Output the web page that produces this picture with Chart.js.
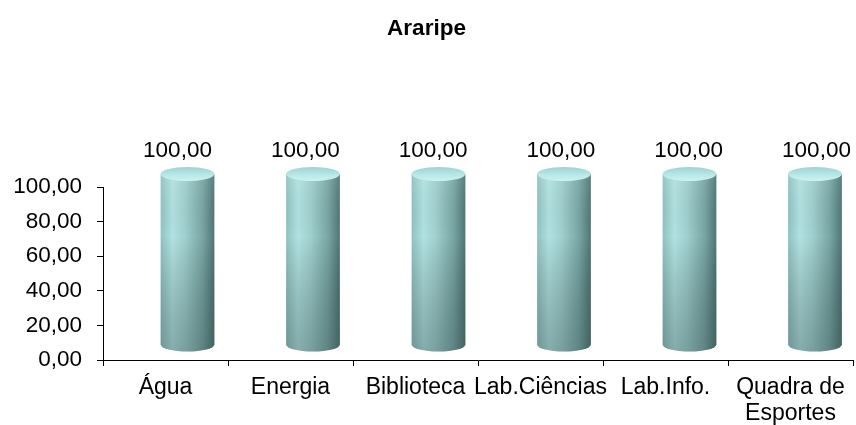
<!DOCTYPE html>
<html>
<head>
<meta charset="utf-8">
<script src="https://cdn.jsdelivr.net/npm/chart.js@4.4.0/dist/chart.umd.min.js"></script>
<style>
  html, body { margin: 0; padding: 0; background: #fff; }
  #wrap { width: 856px; height: 425px; }
</style>
</head>
<body>
<div id="wrap"><canvas id="chart" width="856" height="425"></canvas></div>
<script>
const categories = ['Água', 'Energia', 'Biblioteca', 'Lab.Ciências', 'Lab.Info.', ['Quadra de', 'Esportes']];
const values = [100, 100, 100, 100, 100, 100];
const yTicks = [0, 20, 40, 60, 80, 100];
const chartTitle = 'Araripe';

const FONT = '"Liberation Sans", Arial, sans-serif';
const fmt = v => v.toFixed(2).replace('.', ',');

// 3D cylinder look drawn over the (invisible) bar elements
const cylinders = {
  id: 'cylinders',
  afterDatasetsDraw(chart) {
    const ctx = chart.ctx;
    const meta = chart.getDatasetMeta(0);
    meta.data.forEach((bar, i) => {
      const w = bar.width;
      const cx = bar.x + 22 + i * 0.5;
      const left = cx - w / 2, right = cx + w / 2;
      const ry = 7;
      const top = bar.y - 13;
      const bottom = bar.base - 15;

      const g = ctx.createLinearGradient(left, 0, right, 0);
      g.addColorStop(0, '#8fc2c1');
      g.addColorStop(0.22, '#b0e2e1');
      g.addColorStop(0.45, '#a0d0cf');
      g.addColorStop(0.78, '#78a6a4');
      g.addColorStop(1, '#4f7675');

      ctx.save();
      ctx.beginPath();
      ctx.moveTo(left, top);
      ctx.lineTo(left, bottom);
      ctx.ellipse(cx, bottom, w / 2, ry, 0, Math.PI, 0, true);
      ctx.lineTo(right, top);
      ctx.closePath();
      ctx.fillStyle = g;
      ctx.fill();

      // darker toward the bottom
      const vg = ctx.createLinearGradient(0, top, 0, bottom + ry);
      vg.addColorStop(0, 'rgba(255,255,255,0.08)');
      vg.addColorStop(0.35, 'rgba(0,0,0,0)');
      vg.addColorStop(1, 'rgba(40,60,60,0.32)');
      ctx.fillStyle = vg;
      ctx.fill();

      // top cap
      const tg = ctx.createLinearGradient(0, top - ry, 0, top + ry);
      tg.addColorStop(0, '#9fd2d1');
      tg.addColorStop(0.6, '#b9e9e8');
      tg.addColorStop(1, '#cdf3f2');
      ctx.beginPath();
      ctx.ellipse(cx, top, w / 2, ry, 0, 0, Math.PI * 2);
      ctx.fillStyle = tg;
      ctx.fill();
      ctx.restore();

      // value label
      ctx.save();
      ctx.font = '22.5px ' + FONT;
      ctx.fillStyle = '#000';
      ctx.textAlign = 'center';
      ctx.textBaseline = 'middle';
      ctx.fillText(fmt(values[i]), bar.x + 12 + i * 2.8, bar.y - 36);
      ctx.restore();
    });
  }
};

new Chart(document.getElementById('chart'), {
  type: 'bar',
  data: {
    labels: categories,
    datasets: [{
      data: values,
      backgroundColor: 'rgba(0,0,0,0)',
      borderWidth: 0,
      categoryPercentage: 1,
      barPercentage: 0.43
    }]
  },
  options: {
    responsive: false,
    animation: false,
    layout: { padding: { left: 0, right: 3, top: 0, bottom: 0 } },
    plugins: {
      legend: { display: false },
      tooltip: { enabled: false },
      title: {
        display: true,
        text: chartTitle,
        color: '#000',
        font: { family: FONT, size: 22.5, weight: 'bold', lineHeight: 1.2 },
        padding: { top: 15, bottom: 145 }
      }
    },
    scales: {
      y: {
        min: 0,
        max: 100,
        afterFit(scale) { scale.width = 103; },
        afterBuildTicks(scale) { scale.ticks = yTicks.map(v => ({ value: v })); },
        border: { display: true, color: '#000', width: 1 },
        grid: { drawOnChartArea: false, drawTicks: true, tickLength: 6, color: '#000' },
        ticks: {
          color: '#000',
          padding: 15,
          font: { family: FONT, size: 22.5 },
          callback: v => fmt(v)
        }
      },
      x: {
        afterFit(scale) { scale.height = 65; },
        border: { display: true, color: '#000', width: 1 },
        grid: { drawOnChartArea: false, drawTicks: true, tickLength: 6, color: '#000', offset: true },
        ticks: {
          color: '#000',
          padding: 8,
          maxRotation: 0,
          autoSkip: false,
          font: { family: FONT, size: 23, lineHeight: 1.15 }
        }
      }
    }
  },
  plugins: [cylinders]
});
</script>
</body>
</html>
